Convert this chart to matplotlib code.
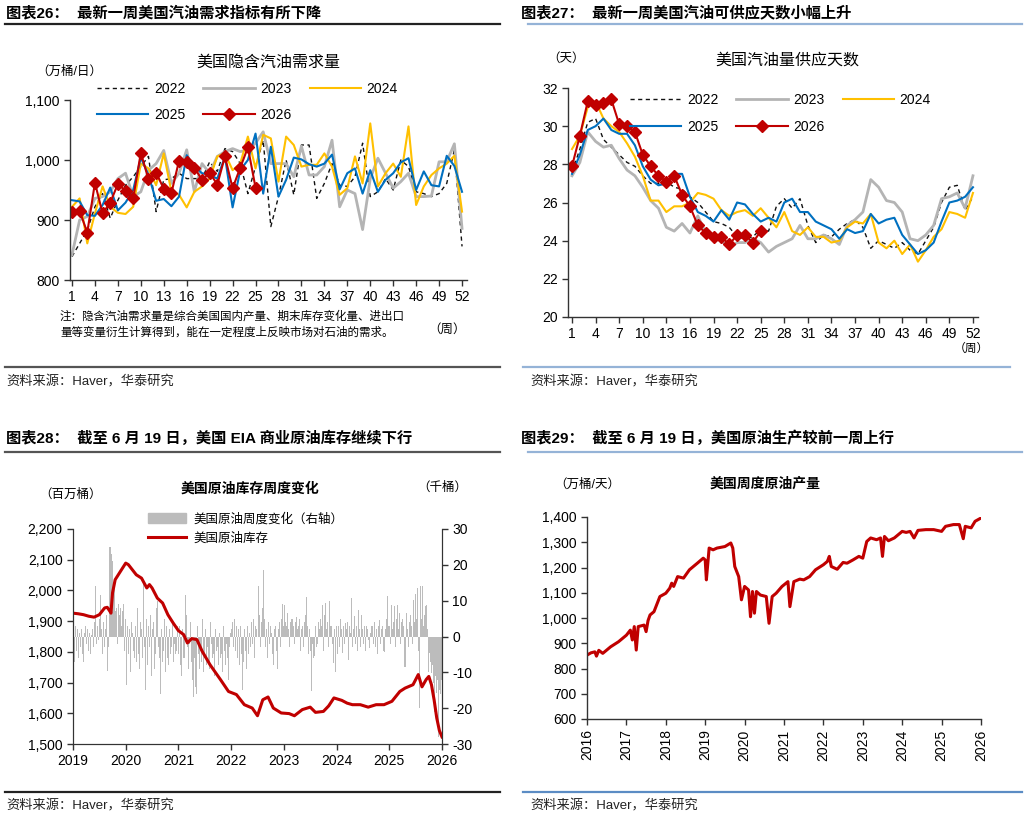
import numpy as np
import matplotlib
matplotlib.use("Agg")
import matplotlib.pyplot as plt
from matplotlib.ticker import FuncFormatter, MultipleLocator
from matplotlib.lines import Line2D
from matplotlib.patches import Patch

plt.rcParams['font.family'] = ['Liberation Sans', 'Noto Sans CJK SC']
plt.rcParams['axes.unicode_minus'] = False

W, H = 1029, 819

# ---------------- data ----------------
weeks = np.arange(1, 53)

# 美国隐含汽油需求量 (万桶/日)
dem_2022 = [839, 861, 883, 922, 944, 903, 933, 958, 972, 989, 1006, 914, 967, 969, 978, 969, 969, 969,
            997, 981, 1019, 1014, 994, 944, 989, 1033, 889, 939, 1000, 942, 1025, 1025, 936, 961, 994,
            958, 956, 972, 1028, 939, 947, 969, 950, 1000, 989, 947, 944, 939, 944, 961, 1017, 856]
dem_2023 = [842, 900, 906, 936, 939, 947, 969, 978, 939, 947, 983, 994, 1016, 961, 978, 1017, 947, 994,
            978, 1006, 1014, 1019, 1014, 1017, 1028, 1047, 994, 994, 994, 972, 1023, 975, 975, 989, 1033,
            922, 950, 944, 884, 969, 1003, 978, 953, 964, 978, 939, 939, 940, 997, 997, 1027, 886]
dem_2024 = [922, 936, 861, 911, 956, 922, 912, 910, 922, 994, 986, 958, 1011, 947, 942, 921, 947, 956,
            969, 1006, 1011, 983, 994, 1039, 986, 1042, 1036, 964, 1039, 1025, 989, 992, 992, 1011, 989,
            942, 953, 1006, 961, 1061, 956, 978, 994, 972, 1056, 925, 956, 975, 986, 994, 1007, 914]
dem_2025 = [933, 931, 908, 907, 925, 954, 916, 929, 950, 1004, 975, 932, 935, 923, 939, 1008, 989, 978,
            975, 969, 1006, 921, 983, 1000, 1044, 944, 1022, 939, 967, 1004, 1001, 993, 989, 994, 1009,
            951, 978, 986, 944, 983, 947, 967, 978, 996, 1003, 950, 981, 958, 956, 1007, 990, 947]
dem_2026 = [914, 915, 879, 962, 911, 929, 960, 949, 936, 1012, 968, 979, 952, 945, 999, 997, 987, 967,
            979, 959, 1006, 953, 987, 1021, 954]

# 美国汽油量供应天数 (天)
day_2022 = [27.6, 28.8, 30.2, 30.4, 29.3, 28.9, 28.5, 28.1, 27.9, 27.4, 27.0, 27.0, 27.1, 26.8, 26.7,
            26.3, 26.0, 25.5, 25.0, 24.9, 24.7, 24.2, 24.1, 24.2, 24.6, 24.5, 25.8, 26.2, 25.7, 26.2,
            24.8, 23.9, 24.3, 24.2, 24.6, 24.9, 25.1, 24.7, 23.6, 24.0, 23.8, 23.6, 23.9, 23.5, 23.3,
            24.0, 24.7, 26.0, 26.8, 26.9, 25.6, 26.3]
day_2023 = [27.4, 28.1, 29.7, 29.2, 28.9, 29.0, 28.3, 27.7, 27.4, 26.8, 26.1, 25.7, 24.7, 24.5, 24.9,
            24.4, 25.3, 24.4, 24.1, 24.0, 23.6, 23.9, 23.9, 24.1, 23.9, 23.4, 23.7, 23.9, 24.1, 24.8,
            24.1, 24.1, 24.3, 24.1, 23.8, 24.8, 25.1, 25.5, 27.2, 26.8, 26.1, 26.0, 25.5, 24.1, 24.0,
            24.3, 24.8, 26.2, 26.3, 26.5, 25.7, 27.4]
day_2024 = [28.8, 29.5, 31.0, 31.3, 30.4, 30.0, 29.7, 29.1, 28.4, 27.4, 26.1, 26.1, 25.5, 25.8, 25.8,
            26.0, 26.5, 26.4, 26.2, 25.6, 25.3, 25.5, 25.6, 25.3, 25.7, 25.2, 24.7, 25.5, 24.5, 24.3,
            24.7, 24.2, 24.2, 23.9, 24.0, 24.7, 25.0, 24.9, 25.4, 23.9, 23.6, 24.0, 23.3, 23.8, 22.9,
            23.5, 24.2, 24.6, 25.5, 25.4, 25.2, 26.5]
day_2025 = [27.5, 28.5, 29.8, 30.0, 30.4, 29.8, 29.6, 29.6, 29.0, 27.9, 27.2, 26.9, 27.0, 27.5, 27.5,
            26.3, 25.5, 25.3, 25.0, 25.6, 25.1, 26.0, 25.9, 25.4, 25.0, 25.2, 25.0, 26.0, 26.2, 25.5,
            25.5, 25.0, 24.8, 24.6, 24.1, 24.6, 24.4, 24.5, 25.4, 24.9, 25.1, 25.2, 24.3, 23.8, 23.3,
            23.5, 23.9, 25.0, 26.0, 26.1, 26.3, 26.8]
day_2026 = [27.9, 29.5, 31.3, 31.1, 31.2, 31.4, 30.1, 30.0, 29.7, 28.5, 27.9, 27.4, 27.1, 27.4, 26.4,
            25.8, 24.8, 24.4, 24.2, 24.2, 23.8, 24.3, 24.3, 23.9, 24.5]

# 美国原油库存 (百万桶), 时间为小数年份
inv_t = [2019.0, 2019.1, 2019.2, 2019.3, 2019.4, 2019.5, 2019.6, 2019.65, 2019.7, 2019.72, 2019.75,
         2019.8, 2019.9, 2020.0, 2020.05, 2020.2, 2020.3, 2020.4, 2020.45, 2020.5, 2020.6, 2020.7,
         2020.8, 2020.9, 2021.0, 2021.1, 2021.17, 2021.25, 2021.35, 2021.45, 2021.6, 2021.8, 2021.95,
         2022.1, 2022.25, 2022.4, 2022.5, 2022.6, 2022.7, 2022.8, 2022.95, 2023.1, 2023.2, 2023.35,
         2023.5, 2023.6, 2023.75, 2023.85, 2023.95, 2024.1, 2024.2, 2024.3, 2024.45, 2024.6, 2024.75,
         2024.9, 2025.05, 2025.2, 2025.3, 2025.45, 2025.55, 2025.62, 2025.7, 2025.75, 2025.8, 2025.85,
         2025.9, 2025.95, 2026.0]
inv_v = [1926, 1924, 1921, 1916, 1913, 1921, 1943, 1945, 1932, 1926, 1992, 2035, 2062, 2089, 2084,
         2051, 2040, 2008, 2019, 2008, 1975, 1959, 1921, 1894, 1869, 1856, 1829, 1843, 1840, 1802,
         1758, 1709, 1671, 1661, 1628, 1617, 1592, 1644, 1653, 1617, 1601, 1599, 1592, 1612, 1620,
         1603, 1606, 1624, 1650, 1642, 1633, 1628, 1628, 1620, 1628, 1628, 1639, 1671, 1682, 1693,
         1726, 1686, 1710, 1720, 1693, 1644, 1585, 1544, 1523]

# 美国原油周度变化 (右轴), 每年52周
chg_2019 = [8.8, -7, 3, -4, 2, -6, 1, -3, 2, -5, -7, 1, 3, -2, 2, -4, 1, -5, 0.5, 2, -3, 4, 14, -2, 3,
            -1, 5, 11.6, 2, -5, 4, -3, 2, 6, -9.5, -3, 25, 23, 21, 12, 16, 7, 8, -2, 9, 6, 8, 3, 7, 9,
            -4, 5]
chg_2020 = [-13.5, 3, -5, 2, -10, 4, 1, -4, -6, 3, -7, 8, -5, -9, 4, 2, -6, 16, -3, -15, 5, -8, 3, -3,
            6, -11, 2, 4, -9, -5, 8, 10, -3, -6, -16, 2, -7, -4, 5, -10, 3, -6, -8, 2, -5, -3, 4, -7,
            -2, -5, -4, 3]
chg_2021 = [-5, 3, -8, -11, 2, -6, 11.6, 6, -3, -9, -2, 4, -7, -12, -17, -6, -14, -16, 3, -5, -9, -4,
            -7, 5, -10, -6, 2, -8, -3, -7, -9, 4, -2, -6, -5, -11, 2, -4, -3, -8, 1, -6, -5, -10, 3,
            -4, -8, -2, -6, -12, -3, 1]
chg_2022 = [2, 4, -3, 5, -4, 3, -6, 2, -8, 3, -5, -15, -7, 2, -4, -9, 3, -5, 1, -3, 4, -2, 5, -6, 3, 2,
            14, 6, -3, 4, 8, 18.6, 5, -3, 2, -6, 4, -2, 3, 1, -5, -8, 2, 3, -4, -9, 2, 4, -3, 5, 9, 3]
chg_2023 = [8.8, 4, 3, 6.5, 2, -3, 4, 5, 5, 3, -2, 4, 5.5, 2, 3, 5, -4, 2, 3, -3, 4, 6, 11, 3, -5, 2,
            -4, -15.3, -2, -6, -5.5, 3, -3, -2, 4, 2, 5, 3, 8.8, -4, 6, 9.3, 2, 4, -3, 9.8, 3, -2,
            -7.5, 2, -10, 3]
chg_2024 = [-5, 3, -3, 5, 2, -4.6, 3, -2, 3.7, 2, 4, -6.5, 3, 1, 10.7, -3, 2, 5.6, -2, 3, -4, 7.5, 2,
            -3, 6, 2, -2, 3, -4, 2.8, 2, -1, -3.2, 1, 3, 2.8, -2, 4, -3, 2, -5, 3, 4.6, -2, 2, 3, -4,
            -4.2, 2, 5, 11.2, 3]
chg_2025 = [3, -2, 8.8, 2, 4, 8.4, -3, 5, 8.8, 2, 6.5, -2, 4, 5, 3, -8.4, 6.5, 2, -3, 4, 6, 3, -2, 10.2,
            4, 12, 5, 13.5, -4, -20, 14, 5, 14.2, 3, 6, 8.4, 8.8, 2, -9.8, -4.6, -7, -10.2, -8, -13,
            -21, -11, -15.8, -12, -28, -14.9, -16, -12]

# 美国周度原油产量 (万桶/天)
prod_t = [2016.0, 2016.1, 2016.2, 2016.24, 2016.3, 2016.4, 2016.6, 2016.8, 2017.0, 2017.1, 2017.15,
          2017.2, 2017.25, 2017.3, 2017.45, 2017.5, 2017.55, 2017.6, 2017.7, 2017.85, 2018.0, 2018.1,
          2018.15, 2018.2, 2018.3, 2018.45, 2018.6, 2018.8, 2018.95, 2019.0, 2019.03, 2019.1, 2019.2,
          2019.3, 2019.5, 2019.65, 2019.7, 2019.75, 2019.85, 2019.92, 2020.0, 2020.1, 2020.15, 2020.2,
          2020.25, 2020.3, 2020.4, 2020.55, 2020.62, 2020.7, 2020.8, 2020.95, 2021.1, 2021.15, 2021.25,
          2021.4, 2021.5, 2021.65, 2021.8, 2022.0, 2022.1, 2022.15, 2022.2, 2022.35, 2022.5, 2022.6,
          2022.75, 2022.9, 2023.0, 2023.1, 2023.2, 2023.35, 2023.45, 2023.5, 2023.55, 2023.65, 2023.8,
          2024.0, 2024.1, 2024.2, 2024.3, 2024.4, 2024.6, 2024.8, 2025.0, 2025.1, 2025.3, 2025.45,
          2025.55, 2025.6, 2025.75, 2025.85, 2026.0]
prod_v = [853, 862, 866, 849, 872, 860, 886, 906, 932, 952, 913, 966, 873, 966, 972, 946, 990, 1012,
          1025, 1085, 1098, 1118, 1138, 1125, 1164, 1158, 1191, 1217, 1237, 1230, 1151, 1277, 1270,
          1277, 1283, 1297, 1277, 1204, 1164, 1072, 1125, 1111, 1005, 1105, 1019, 1105, 1091, 1085,
          979, 1085, 1098, 1125, 1144, 1045, 1144, 1154, 1151, 1164, 1191, 1211, 1224, 1244, 1204,
          1193, 1220, 1217, 1230, 1244, 1237, 1303, 1317, 1310, 1317, 1244, 1323, 1306, 1317, 1343,
          1339, 1343, 1317, 1347, 1350, 1350, 1343, 1363, 1370, 1370, 1314, 1363, 1357, 1383, 1396]

# ---------------- style ----------------
RED = '#c00000'
BLUE = '#0070c0'
YEL = '#ffc000'
GRAY = '#b4b4b4'
BLUELINE = '#95b3d7'


def fx(px):
    return px / W


def fy(py):
    return 1 - py / H


def box(x0, y0, x1, y1):
    return [fx(x0), fy(y1), fx(x1) - fx(x0), fy(y0) - fy(y1)]


def comma(v, p):
    return f'{v:,.0f}'


fig = plt.figure(figsize=(W / 100, H / 100), dpi=100)


def style_axes(ax):
    for s in ['top', 'right']:
        ax.spines[s].set_visible(False)
    for s in ['left', 'bottom']:
        ax.spines[s].set_color('#333333')
        ax.spines[s].set_linewidth(1.0)
    ax.tick_params(direction='out', length=4, width=1, labelsize=10, colors='#333333', labelcolor='black')


def hline(x0, x1, y, color, lw=1.6):
    fig.add_artist(Line2D([fx(x0), fx(x1)], [fy(y), fy(y)], color=color, lw=lw))


# headers and separators
hdr = dict(fontsize=11, fontweight='bold', va='center', ha='left')
fig.text(fx(6), fy(13), '图表26：  最新一周美国汽油需求指标有所下降', **hdr)
fig.text(fx(521), fy(13), '图表27：  最新一周美国汽油可供应天数小幅上升', **hdr)
fig.text(fx(6), fy(438), '图表28：  截至 6 月 19 日，美国 EIA 商业原油库存继续下行', **hdr)
fig.text(fx(521), fy(438), '图表29：  截至 6 月 19 日，美国原油生产较前一周上行', **hdr)
hline(5, 500, 24, '#222222')
hline(528, 1022, 24, BLUELINE)
hline(5, 500, 452, '#555555')
hline(528, 1022, 452, BLUELINE)
hline(5, 500, 367, '#555555')
hline(523, 1010, 367, BLUELINE)
hline(5, 500, 792, '#222222')
hline(523, 1022, 792, '#5b8cc4')
src = dict(fontsize=9.5, va='center', ha='left', color='#222222')
fig.text(fx(6), fy(382), '资料来源：Haver，华泰研究', **src)
fig.text(fx(530), fy(382), '资料来源：Haver，华泰研究', **src)
fig.text(fx(6), fy(806), '资料来源：Haver，华泰研究', **src)
fig.text(fx(530), fy(806), '资料来源：Haver，华泰研究', **src)

# ---------------- panel 1 ----------------
ax1 = fig.add_axes(box(70, 100, 467, 280))
style_axes(ax1)
h22, = ax1.plot(weeks, dem_2022, color='#111111', lw=1.0, ls=(0, (3, 2.5)), label='2022')
h23, = ax1.plot(weeks, dem_2023, color=GRAY, lw=2.0, label='2023')
h24, = ax1.plot(weeks, dem_2024, color=YEL, lw=1.5, label='2024')
h25, = ax1.plot(weeks, dem_2025, color=BLUE, lw=1.5, label='2025')
h26, = ax1.plot(weeks[:len(dem_2026)], dem_2026, color=RED, lw=1.5, marker='D', ms=6.5, label='2026')
ax1.set_xlim(0.74, 52.65)
ax1.set_ylim(800, 1100)
ax1.set_xticks(np.arange(1, 53, 3))
ax1.yaxis.set_major_locator(MultipleLocator(100))
ax1.yaxis.set_major_formatter(FuncFormatter(comma))
ax1.legend([h22, h25, h23, h26, h24], ['2022', '2025', '2023', '2026', '2024'], ncol=3,
           loc='upper left', bbox_to_anchor=(fx(97), fy(82)), bbox_transform=fig.transFigure,
           frameon=False, fontsize=10, handlelength=3.7, handletextpad=0.4, columnspacing=1.3,
           labelspacing=0.85, borderpad=0, borderaxespad=0)
fig.text(fx(268), fy(62), '美国隐含汽油需求量', fontsize=11.5, ha='center', va='center')
fig.text(fx(36), fy(72), '（万桶/日）', fontsize=9, ha='left', va='center')
fig.text(fx(60), fy(317), '注：隐含汽油需求量是综合美国国内产量、期末库存变化量、进出口', fontsize=8.3, ha='left', va='center')
fig.text(fx(60), fy(333), '量等变量衍生计算得到，能在一定程度上反映市场对石油的需求。', fontsize=8.3, ha='left', va='center')
fig.text(fx(447), fy(330), '（周）', fontsize=9, ha='center', va='center')

# ---------------- panel 2 ----------------
ax2 = fig.add_axes(box(568, 88, 978, 317))
style_axes(ax2)
g22, = ax2.plot(weeks, day_2022, color='#111111', lw=1.0, ls=(0, (3, 2.5)), label='2022')
g23, = ax2.plot(weeks, day_2023, color=GRAY, lw=2.0, label='2023')
g24, = ax2.plot(weeks, day_2024, color=YEL, lw=1.5, label='2024')
g25, = ax2.plot(weeks, day_2025, color=BLUE, lw=1.5, label='2025')
g26, = ax2.plot(weeks[:len(day_2026)], day_2026, color=RED, lw=1.5, marker='D', ms=6.5, label='2026')
ax2.set_xlim(0.49, 52.64)
ax2.set_ylim(20, 32)
ax2.set_xticks(np.arange(1, 53, 3))
ax2.yaxis.set_major_locator(MultipleLocator(2))
ax2.legend([g22, g25, g23, g26, g24], ['2022', '2025', '2023', '2026', '2024'], ncol=3,
           loc='upper left', bbox_to_anchor=(fx(630), fy(93)), bbox_transform=fig.transFigure,
           frameon=False, fontsize=10, handlelength=3.7, handletextpad=0.4, columnspacing=1.3,
           labelspacing=0.95, borderpad=0, borderaxespad=0)
fig.text(fx(787), fy(60), '美国汽油量供应天数', fontsize=11.5, ha='center', va='center')
fig.text(fx(547), fy(59), '（天）', fontsize=9, ha='left', va='center')
fig.text(fx(971), fy(349), '（周）', fontsize=8.5, ha='center', va='center')

# ---------------- panel 3 ----------------
ax3 = fig.add_axes(box(73, 529, 442, 744))
ax3r = ax3.twinx()
chg = chg_2019 + chg_2020 + chg_2021 + chg_2022 + chg_2023 + chg_2024 + chg_2025
bar_x = 2019 + (np.arange(len(chg)) + 0.5) / 52
ax3r.bar(bar_x, chg, width=1.0 / 52, color='#bcbcbc', edgecolor='none')
ax3.plot(inv_t, inv_v, color=RED, lw=2.2)
ax3.set_zorder(ax3r.get_zorder() + 1)
ax3.patch.set_visible(False)
for a in (ax3, ax3r):
    a.spines['top'].set_visible(False)
    for s in ['left', 'right', 'bottom']:
        a.spines[s].set_color('#333333')
    a.tick_params(direction='out', length=4, width=1, labelsize=10, colors='#333333', labelcolor='black')
ax3.set_xlim(2019, 2026)
ax3.set_ylim(1500, 2200)
ax3r.set_ylim(-30, 30)
ax3.set_xticks(np.arange(2019, 2027))
ax3.set_xticklabels([str(y) for y in range(2019, 2027)])
ax3.yaxis.set_major_locator(MultipleLocator(100))
ax3.yaxis.set_major_formatter(FuncFormatter(comma))
ax3r.yaxis.set_major_locator(MultipleLocator(10))
ax3.legend([Patch(color='#bcbcbc'), Line2D([], [], color=RED, lw=2.2)],
           ['美国原油周度变化（右轴）', '美国原油库存'], loc='upper left',
           bbox_to_anchor=(fx(148), fy(513)), bbox_transform=fig.transFigure, frameon=False,
           fontsize=9, handlelength=3.0, handleheight=0.8, handletextpad=0.6, labelspacing=0.55,
           borderpad=0, borderaxespad=0)
fig.text(fx(250), fy(489), '美国原油库存周度变化', fontsize=10, fontweight='bold', ha='center', va='center')
fig.text(fx(39), fy(495), '（百万桶）', fontsize=9, ha='left', va='center')
fig.text(fx(417), fy(488), '（千桶）', fontsize=9, ha='left', va='center')

# ---------------- panel 4 ----------------
ax4 = fig.add_axes(box(587, 517, 981, 719))
style_axes(ax4)
ax4.plot(prod_t, prod_v, color=RED, lw=2.2)
ax4.set_xlim(2016, 2026)
ax4.set_ylim(600, 1400)
ax4.set_xticks(np.arange(2016, 2027))
ax4.set_xticklabels([str(y) for y in range(2016, 2027)], rotation=90)
ax4.yaxis.set_major_locator(MultipleLocator(100))
ax4.yaxis.set_major_formatter(FuncFormatter(comma))
fig.text(fx(765), fy(484), '美国周度原油产量', fontsize=10, fontweight='bold', ha='center', va='center')
fig.text(fx(554), fy(485), '（万桶/天）', fontsize=9, ha='left', va='center')

fig.savefig('out.png', dpi=100)
